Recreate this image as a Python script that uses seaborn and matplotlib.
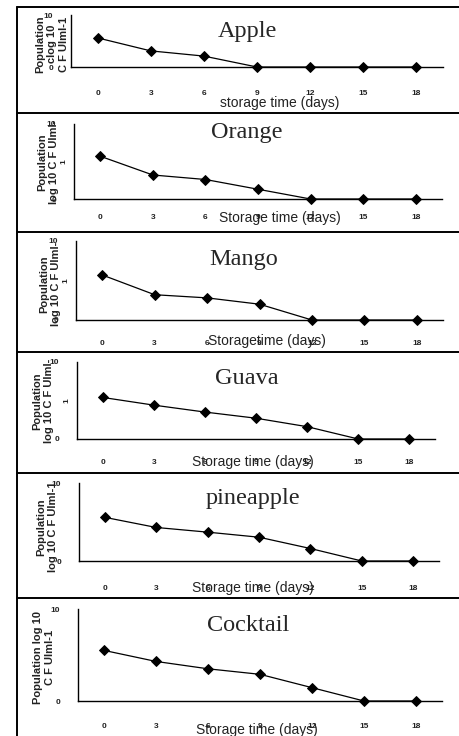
import matplotlib
matplotlib.use("Agg")
import matplotlib.pyplot as plt
from matplotlib.lines import Line2D
import seaborn as sns

# data
days = ["0", "3", "6", "9", "12", "15", "18"]
fruits = ["Apple", "Orange", "Mango", "Guava", "pineapple", "Cocktail"]
apple = [5.6, 3.1, 2.1, 0, 0, 0, 0]
orange = [5.7, 3.2, 2.6, 1.3, 0, 0, 0]
mango = [5.7, 3.2, 2.8, 2.0, 0, 0, 0]
guava = [5.4, 4.4, 3.5, 2.7, 1.6, 0, 0]
pineapple = [5.6, 4.3, 3.7, 3.05, 1.6, 0, 0]
cocktail = [5.5, 4.3, 3.5, 2.9, 1.45, 0, 0]
series = [apple, orange, mango, guava, pineapple, cocktail]

xlabels = ["storage time (days)", "Storage time (days)", "Storagetime (days)",
           "Storage time (days)", "Storage time (days)", "Storage time (days)"]
ylabels = ["Population\nclog 10\nC F Ulml-1",
           "Population\nlog 10 C F Ulml-",
           "Population\nlog 10 C F Ulml-",
           "Population\nlog 10 C F Ulml-",
           "Population\nlog 10 C F Ulml-1",
           "Population log 10\nC F Ulml-1"]
yticks = [[0, 10], [0, 5, 10], [0, 5, 10], [0, 5, 10], [0, 10], [0, 10]]
yticklabels = [["0", "10"], ["0", "1", "10"], ["0", "1", "10"], ["0", "1", "10"],
               ["0", "10"], ["0", "10"]]

sns.set_style("white")
plt.rcParams["font.family"] = ["Liberation Sans", "DejaVu Sans"]

W, H = 459, 736
fig = plt.figure(figsize=(W / 100, H / 100), dpi=100)


def fx(x):
    return x / W


def fy(y):
    return 1 - y / H


# pixel layout of every panel: axes box, tick pad, title, labels
layout = [
    dict(ax=(71, 443, 15, 67), pad=16.5, title=(247, 37), xl=(280, 103), yl=(52, 44)),
    dict(ax=(74, 442, 124, 199), pad=10.8, title=(247, 138), xl=(280, 218), yl=(48, 162)),
    dict(ax=(76, 443, 241, 320), pad=14.4, title=(244, 265), xl=(267, 341), yl=(50, 284)),
    dict(ax=(77, 435, 362, 439), pad=14.4, title=(247, 384), xl=(253, 462), yl=(43, 401)),
    dict(ax=(79, 439, 483, 561), pad=17.3, title=(253, 504), xl=(253, 588), yl=(47, 527)),
    dict(ax=(78, 442, 609, 701), pad=15.8, title=(248, 631), xl=(257, 730), yl=(44, 657)),
]

# panel borders
for yb in [7, 112.5, 231.5, 352, 472.5, 597.5]:
    fig.add_artist(Line2D([fx(17), fx(470)], [fy(yb), fy(yb)], color="black",
                          lw=1.4, transform=fig.transFigure))
fig.add_artist(Line2D([fx(17), fx(17)], [fy(7), fy(740)], color="black",
                      lw=1.4, transform=fig.transFigure))

for i, lay in enumerate(layout):
    l, r, t, b = lay["ax"]
    ax = fig.add_axes([fx(l), fy(b), (r - l) / W, (b - t) / H])
    ax.patch.set_alpha(0)
    sns.pointplot(x=days, y=series[i], ax=ax, color="black", markers="D",
                  linestyles="-", errorbar=None, markersize=5.5, linewidth=0.9)
    for ln in ax.lines:
        ln.set_clip_on(False)
    ax.set_xlim(-0.5, 6.5)
    ax.set_ylim(0, 10)
    ax.grid(False)
    for s in ["top", "right"]:
        ax.spines[s].set_visible(False)
    for s in ["left", "bottom"]:
        ax.spines[s].set_linewidth(1.0)
        ax.spines[s].set_color("black")
    ax.set_xticks(range(len(days)), days)
    ax.set_xticks([k + 0.5 for k in range(-1, len(days))], minor=True)
    ax.tick_params(axis="x", which="major", length=0, pad=lay["pad"],
                   labelsize=6, labelcolor="#222222")
    ax.tick_params(axis="x", which="minor", length=3.5, width=1.0,
                   direction="out", color="black")
    ax.set_yticks(yticks[i], yticklabels[i])
    ax.tick_params(axis="y", length=3, width=1.0, direction="out",
                   color="black", pad=10, labelsize=6, labelcolor="#222222")
    for lab in ax.get_xticklabels() + ax.get_yticklabels():
        lab.set_fontweight("bold")
    if len(yticks[i]) == 3:
        ax.get_yticklabels()[1].set_rotation(90)
        ax.yaxis.get_major_ticks()[1].set_pad(2)
    ax.set_xlabel("")
    ax.set_ylabel("")

    tx, ty = lay["title"]
    fig.text(fx(tx), fy(ty), fruits[i], ha="center", va="baseline",
             family="Liberation Serif", fontsize=17.5)
    xx, xy = lay["xl"]
    fig.text(fx(xx), fy(xy), xlabels[i], ha="center", va="center",
             fontsize=10, color="#222222")
    yx, yy = lay["yl"]
    fig.text(fx(yx), fy(yy), ylabels[i], ha="center", va="center",
             rotation=90, fontsize=8, fontweight="bold", linespacing=1.2,
             multialignment="center", color="#222222")

fig.savefig("out.png", dpi=100)
